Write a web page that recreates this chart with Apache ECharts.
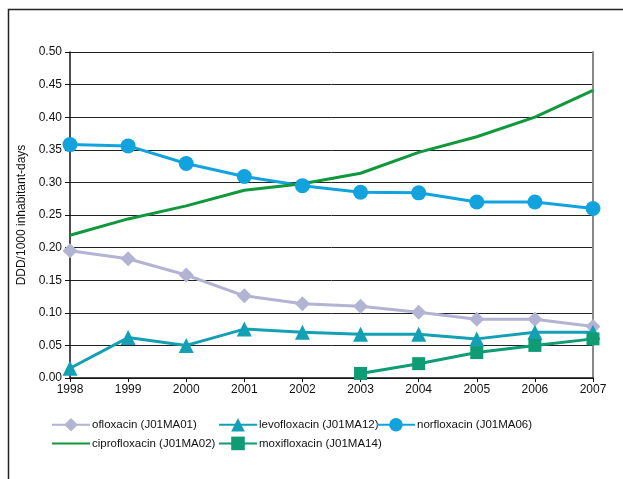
<!DOCTYPE html>
<html>
<head>
<meta charset="utf-8">
<script src="https://cdn.jsdelivr.net/npm/echarts@6/dist/echarts.min.js"></script>
<style>
  html, body { margin: 0; padding: 0; background: #fff; }
  #chart { width: 623px; height: 479px; }
</style>
</head>
<body>
<div id="chart"></div>
<script>
// Fluoroquinolone consumption, DDD per 1000 inhabitant-days, 1998–2007
const years = ['1998', '1999', '2000', '2001', '2002', '2003', '2004', '2005', '2006', '2007'];
const ofloxacin = [0.195, 0.183, 0.158, 0.126, 0.114, 0.110, 0.101, 0.090, 0.090, 0.079];
const levofloxacin = [0.015, 0.062, 0.050, 0.075, 0.070, 0.067, 0.067, 0.060, 0.070, 0.070];
const norfloxacin = [0.358, 0.356, 0.329, 0.309, 0.295, 0.285, 0.284, 0.270, 0.270, 0.260];
const ciprofloxacin = [0.219, 0.244, 0.264, 0.288, 0.298, 0.314, 0.346, 0.370, 0.400, 0.441];
const moxifloxacin = [null, null, null, null, null, 0.007, 0.022, 0.039, 0.050, 0.060];

const names = {
  oflo: 'ofloxacin (J01MA01)',
  levo: 'levofloxacin (J01MA12)',
  norf: 'norfloxacin (J01MA06)',
  cipro: 'ciprofloxacin (J01MA02)',
  moxi: 'moxifloxacin (J01MA14)'
};

const font = '"Liberation Sans", Arial, sans-serif';
const legendBase = {
  orient: 'vertical',
  top: 418,
  itemWidth: 38,
  itemHeight: 17,
  itemGap: 5,
  textStyle: { fontFamily: font, fontSize: 11.5, color: '#111', padding: [0, 0, 0, -3] },
  padding: 0
};

function lineSeries(name, data, color, symbol, size) {
  return {
    name: name,
    type: 'line',
    data: data,
    symbol: symbol,
    symbolSize: size,
    showSymbol: symbol !== 'none',
    lineStyle: { color: color, width: 3 },
    itemStyle: { color: color },
    connectNulls: false,
    z: 3
  };
}

const chart = echarts.init(document.getElementById('chart'));
chart.setOption({
  backgroundColor: '#fff',
  animation: false,
  textStyle: { fontFamily: font },
  graphic: [{
    type: 'polyline',
    shape: { points: [[8.5, 479], [8.5, 9.5], [623, 9.5]] },
    style: { stroke: '#222', lineWidth: 1.5, fill: null },
    silent: true
  }],
  grid: { left: 70, right: 30, top: 52, bottom: 101 },
  legend: [
    Object.assign({}, legendBase, { left: 51, data: [names.oflo, { name: names.cipro, itemStyle: { opacity: 0 } }] }),
    Object.assign({}, legendBase, { left: 218, data: [names.levo, names.moxi] }),
    Object.assign({}, legendBase, { left: 376, data: [names.norf] })
  ],
  xAxis: {
    type: 'category',
    data: years,
    boundaryGap: false,
    axisLine: { lineStyle: { color: '#111', width: 1.5 } },
    axisTick: { show: true, alignWithLabel: true, length: 4, lineStyle: { color: '#111' } },
    axisLabel: { color: '#111', fontSize: 12, margin: 6, fontFamily: font },
    splitLine: { show: false }
  },
  yAxis: [{
    type: 'value',
    min: 0,
    max: 0.5,
    interval: 0.05,
    name: 'DDD/1000 inhabitant-days',
    nameLocation: 'middle',
    nameGap: 42,
    nameTextStyle: { color: '#111', fontSize: 12, fontFamily: font },
    axisLine: { show: true, lineStyle: { color: '#111', width: 1.5 } },
    axisTick: { show: true, length: 5, lineStyle: { color: '#111' } },
    axisLabel: { color: '#111', fontSize: 12, margin: 8, fontFamily: font, formatter: v => v.toFixed(2) },
    splitLine: { show: true, lineStyle: { color: '#222', width: 1 } }
  }, {
    type: 'value',
    min: 0,
    max: 0.5,
    interval: 0.05,
    position: 'right',
    axisLine: { show: true, lineStyle: { color: '#888', width: 2 } },
    axisTick: { show: false },
    axisLabel: { show: false },
    splitLine: { show: false }
  }],
  series: [
    lineSeries(names.oflo, ofloxacin, '#b3b3d3', 'diamond', 15),
    lineSeries(names.levo, levofloxacin, '#14a0b4', 'triangle', 15),
    lineSeries(names.norf, norfloxacin, '#12a3df', 'circle', 15),
    lineSeries(names.cipro, ciprofloxacin, '#10983c', 'none', 0),
    lineSeries(names.moxi, moxifloxacin, '#0f9c74', 'rect', 13)
  ]
});
</script>
</body>
</html>
